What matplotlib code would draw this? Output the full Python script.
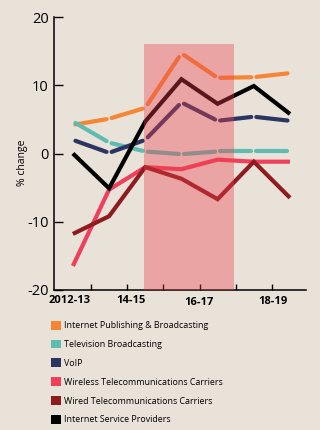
import matplotlib
matplotlib.use("Agg")
import matplotlib.pyplot as plt
from matplotlib.patches import Rectangle, Patch
import numpy as np

years = ["2012-13", "2013-14", "2014-15", "2015-16", "2016-17", "2017-18", "2018-19"]
tick_labels = ["2012-13", "14-15", "16-17", "18-19"]

internet_publishing = [4.2, 5.1, 6.7, 14.7, 11.1, 11.2, 11.8]
television = [4.7, 1.6, 0.3, -0.1, 0.3, 0.3, 0.3]
voip = [2.0, 0.1, 2.0, 7.5, 4.8, 5.4, 4.8]
wireless = [-16.5, -5.3, -2.0, -2.3, -0.9, -1.2, -1.2]
wired = [-11.8, -9.2, -2.0, -3.7, -6.7, -1.2, -6.5]
isp = [0.0, -5.1, 4.7, 10.9, 7.3, 9.9, 5.8]

series_names = ["Internet Publishing & Broadcasting", "Television Broadcasting", "VoIP",
                "Wireless Telecommunications Carriers", "Wired Telecommunications Carriers",
                "Internet Service Providers"]
series_values = [internet_publishing, television, voip, wireless, wired, isp]
colors = ["#F58634", "#5EBCB1", "#2C3462", "#F03F5A", "#8E1B20", "#000000"]
segmented = [True, True, True, False, False, False]

BG = "#E9E2D8"
plt.rcParams['font.family'] = ['Open Sans', 'DejaVu Sans']

fig = plt.figure(figsize=(3.2, 4.3), dpi=100, facecolor=BG)
ax = fig.add_axes([0.169, 0.326, 0.787, 0.634])
ax.set_facecolor(BG)

x = np.arange(len(years))
for vals, c, seg in zip(series_values, colors, segmented):
    y = np.array(vals, dtype=float)
    if seg:
        for i in range(len(x) - 1):
            f = 0.07
            x0 = x[i] + f * (x[i + 1] - x[i]); x1 = x[i + 1] - f * (x[i + 1] - x[i])
            y0 = y[i] + f * (y[i + 1] - y[i]); y1 = y[i + 1] - f * (y[i + 1] - y[i])
            ax.plot([x0, x1], [y0, y1], color=c, lw=3.0, solid_capstyle='round', zorder=2)
    else:
        ax.plot(x, y, color=c, lw=3.0, solid_joinstyle='miter', solid_capstyle='butt', zorder=2)

shade_x = (1.96, 4.45)
shade_top = 16
ax.add_patch(Rectangle((shade_x[0], -20), shade_x[1] - shade_x[0], shade_top + 20,
                       facecolor="#EC3F4D", alpha=0.38, edgecolor='none', zorder=3))

ax.set_xlim(-0.52, 6.44)
ax.set_ylim(-20, 20)
ax.set_yticks([-20, -10, 0, 10, 20])
ax.set_yticklabels(["-20", "-10", "0", "10", "20"], fontsize=10.5, fontweight='medium')
ax.set_xticks(np.arange(0.5, 6, 1.0))
ax.set_xticklabels([])
ax.tick_params(axis='y', direction='in', length=6.5, width=1.0, pad=4, colors='black')
ax.tick_params(axis='x', direction='in', length=4.5, width=1.0)
for s in ["top", "right"]:
    ax.spines[s].set_visible(False)
for s in ["left", "bottom"]:
    ax.spines[s].set_linewidth(1.1)

label_pos = [-0.08, 1.6, 3.48, 5.53]
label_dy = [-11, -10.5, -13, -12]
for lab, xp, dy in zip(tick_labels, label_pos, label_dy):
    ax.annotate(lab, xy=(xp, 0), xycoords=ax.get_xaxis_transform(),
                xytext=(0, dy), textcoords='offset pixels', ha='center', va='center',
                fontsize=8, fontweight='bold')

ax.set_ylabel("% change", fontsize=7.5, va='center', fontweight='medium')
ax.yaxis.set_label_coords(-0.127, 0.465)

handles = [Patch(facecolor=c, edgecolor='none') for c in colors]
fig.legend(handles, series_names, loc='upper left', bbox_to_anchor=(0.160, 0.254),
           frameon=False, fontsize=6.4, handlelength=1.15, handleheight=1.15,
           handletextpad=0.3, labelspacing=1.06, borderaxespad=0, borderpad=0)

fig.savefig("out.png", dpi=100, facecolor=BG)
